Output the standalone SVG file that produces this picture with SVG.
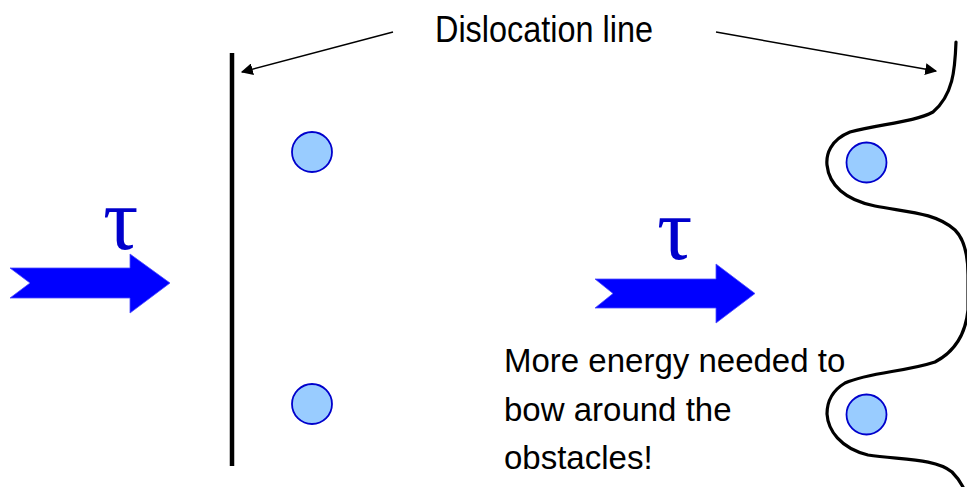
<svg xmlns="http://www.w3.org/2000/svg" width="967" height="487" viewBox="0 0 967 487">
<defs>
<style>
.lbl{font-family:"Liberation Sans",Arial,sans-serif;fill:#000}
.tau{font-family:"Liberation Serif","Times New Roman",serif;fill:#0000CC;font-size:88px}
.force{fill:#0000FF;stroke:#4D4DFF;stroke-width:0.8}
.obs{fill:#99CCFF;stroke:#0000CC;stroke-width:1.8}
.leader{stroke:#000;stroke-width:1.5;fill:none}
.disl{stroke:#000;fill:none;stroke-width:3.2;stroke-linecap:round}
</style>
<marker id="ah" viewBox="0 0 10 10" refX="9" refY="5" markerWidth="12" markerHeight="12" markerUnits="userSpaceOnUse" orient="auto">
<path d="M0,0 L10,5 L0,10 z" fill="#000"/>
</marker>
</defs>
<rect width="967" height="487" fill="#fff"/>

<g id="straight-dislocation">
<line x1="232" y1="53" x2="232" y2="466" stroke="#000" stroke-width="4.5"/>
</g>

<g id="bowed-dislocation">
<path class="disl" d="M956,42 C955,70 953,95 933,112 C915,122 880,124 850,132 C830,140 826,155 827,165 C829,185 845,200 875,206 C905,212 935,212 955,230 C967,242 968,262 968,275 L968,310 C966,330 958,350 935,362 C905,372 870,372 845,383 C830,392 827,405 827,414 C828,430 840,448 868,455 C900,460 935,458 952,472 C958,478 961,483 963,487"/>
</g>

<g id="obstacles">
<circle id="obs-left-top" class="obs" cx="312" cy="152" r="20"/>
<circle id="obs-left-bottom" class="obs" cx="312" cy="404" r="20"/>
<circle id="obs-right-top" class="obs" cx="866.5" cy="162.5" r="20"/>
<circle id="obs-right-bottom" class="obs" cx="866.5" cy="414.5" r="20"/>
</g>

<g id="force-left">
<path class="force" d="M10,268 L130,268 L130,254 L170,283 L130,313 L130,298 L10,298 L30,283 z"/>
<text class="tau" x="103" y="249">τ</text>
</g>

<g id="force-right">
<path class="force" d="M595,279 L716,279 L716,264 L755,293.5 L716,323 L716,308 L595,308 L613,293.5 z"/>
<text class="tau" x="657" y="259">τ</text>
</g>

<g id="label-dislocation">
<text class="lbl" x="435" y="41.5" font-size="36" textLength="218" lengthAdjust="spacingAndGlyphs">Dislocation line</text>
</g>

<g id="label-energy">
<text class="lbl" font-size="33" x="504" y="372">More energy needed to</text>
<text class="lbl" font-size="33" x="504" y="421">bow around the</text>
<text class="lbl" font-size="33" x="504" y="469">obstacles!</text>
</g>

<g id="connectors">
<line class="leader" x1="393" y1="32" x2="242" y2="72" marker-end="url(#ah)"/>
<line class="leader" x1="716" y1="32" x2="936" y2="71" marker-end="url(#ah)"/>
</g>
</svg>
